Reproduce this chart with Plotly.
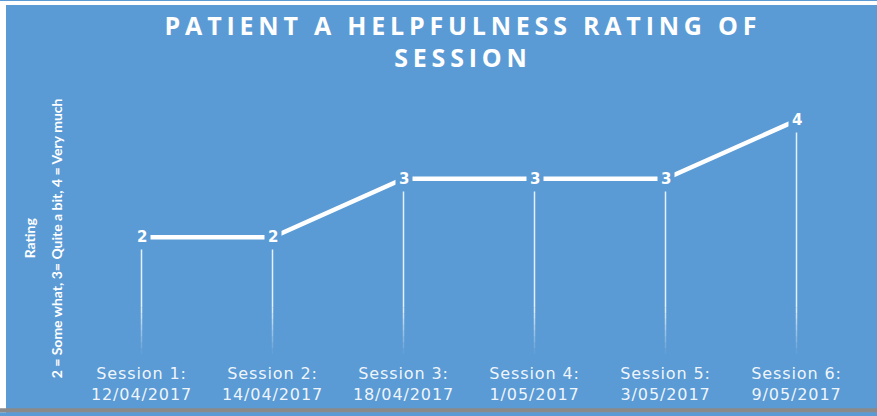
import plotly.graph_objects as go

sessions = ["Session 1:<br>12/04/2017", "Session 2:<br>14/04/2017", "Session 3:<br>18/04/2017",
            "Session 4:<br>1/05/2017", "Session 5:<br>3/05/2017", "Session 6:<br>9/05/2017"]
ratings = [2, 2, 3, 3, 3, 4]
title_lines = ["PATIENT A HELPFULNESS RATING OF", "SESSION"]
y_title_lines = ["Rating", "2 = Some what, 3= Quite a bit, 4 = Very much"]

BG = "#5B9BD5"
W, H = 877, 416
ML, MR, MT, MB = 76, 15, 97, 59
PW, PH = W - ML - MR, H - MT - MB


def px_y(y):
    return (H - MB - y) / PH


def px_x(x):
    return (x - ML) / PW


fig = go.Figure()

# drop lines (solid part then fading tail)
fade_top = 0.8
steps = 8
for s, v in zip(sessions, ratings):
    fig.add_trace(go.Scatter(x=[s, s], y=[v, fade_top], mode="lines",
                             line=dict(color="rgba(255,255,255,0.85)", width=1.5),
                             hoverinfo="skip", showlegend=False))
    for k in range(steps):
        y0 = fade_top * (1 - k / steps)
        y1 = fade_top * (1 - (k + 1) / steps)
        op = 0.85 * (1 - (k + 0.5) / steps)
        fig.add_trace(go.Scatter(x=[s, s], y=[y0, y1], mode="lines",
                                 line=dict(color=f"rgba(255,255,255,{op:.3f})", width=1.5),
                                 hoverinfo="skip", showlegend=False))

# main line
fig.add_trace(go.Scatter(x=sessions, y=ratings, mode="lines",
                         line=dict(color="white", width=4.5),
                         hoverinfo="skip", showlegend=False))

# data labels (masking the lines behind them)
for s, v in zip(sessions, ratings):
    fig.add_annotation(x=s, y=v, text=f"<b>{v}</b>", showarrow=False,
                       font=dict(family="DejaVu Sans", size=15, color="white"),
                       bgcolor=BG, borderpad=3)

# title (two lines, tight spacing)
for txt, yc in zip(title_lines, [24, 57]):
    fig.add_annotation(x=px_x(463), y=px_y(yc), xref="paper", yref="paper",
                       text=f"<b>{txt}</b>", showarrow=False, xanchor="center", yanchor="middle",
                       font=dict(family="Open Sans", size=25, color="white"))

# y-axis title (two rotated lines)
for txt, xc in zip(y_title_lines, [29, 56]):
    fig.add_annotation(x=px_x(xc), y=px_y(240), xref="paper", yref="paper",
                       text=f"<b>{txt}</b>", textangle=-90, showarrow=False,
                       xanchor="center", yanchor="middle",
                       font=dict(family="Lato", size=14, color="white"))

# frame strips
fig.add_shape(type="rect", xref="paper", yref="paper", layer="below",
              x0=px_x(0), x1=px_x(6), y0=px_y(H), y1=px_y(0),
              fillcolor="white", line_width=0)
fig.add_shape(type="rect", xref="paper", yref="paper", layer="below",
              x0=px_x(0), x1=px_x(W), y0=px_y(4), y1=px_y(0),
              fillcolor="white", line_width=0)
fig.add_shape(type="rect", xref="paper", yref="paper", layer="below",
              x0=px_x(0), x1=px_x(W), y0=px_y(H), y1=px_y(412),
              fillcolor="#8a8a8a", line_width=0)

fig.update_layout(
    width=W, height=H,
    margin=dict(l=ML, r=MR, t=MT, b=MB),
    paper_bgcolor=BG, plot_bgcolor=BG,
    xaxis=dict(type="category", range=[-0.5, 5.5], showgrid=False, zeroline=False,
               showline=False, ticks="", ticklabelstandoff=8,
               tickfont=dict(family="DejaVu Sans", size=16,
                             color="rgba(255,255,255,0.92)")),
    yaxis=dict(range=[0, 4.4], visible=False),
)

post = """
document.body.style.margin='0';
document.querySelectorAll('text.annotation-text').forEach(function(t){
  var s = t.textContent;
  if (s.indexOf('PATIENT') === 0 || s === 'SESSION') { t.style.letterSpacing = '4.8px'; }
});
document.querySelectorAll('.xtick text').forEach(function(t){ t.style.letterSpacing = '0.9px'; });
"""

fig.write_html("out.html", post_script=post, config={"displayModeBar": False})
